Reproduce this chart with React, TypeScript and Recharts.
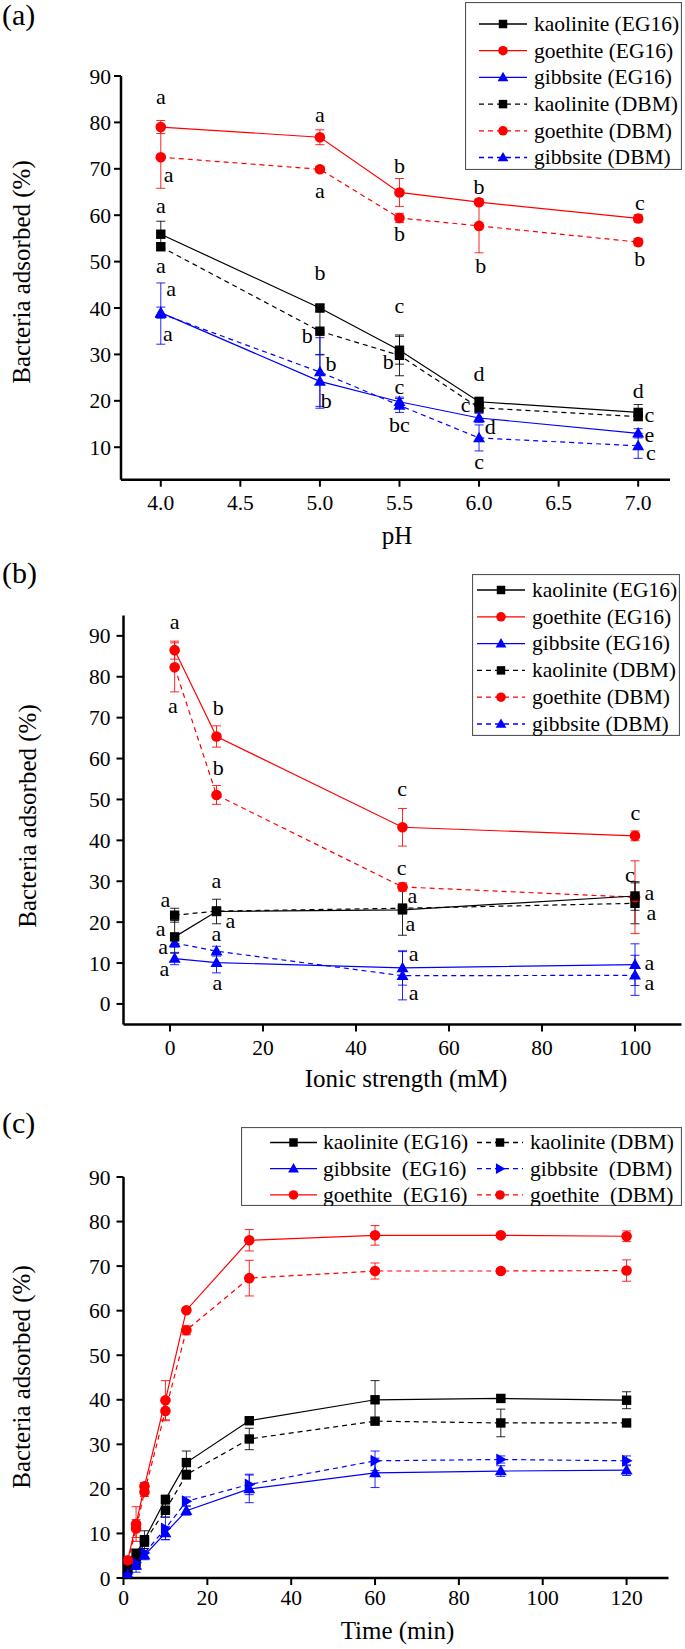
import React from 'react';
import { ComposedChart, Line, Scatter, XAxis, YAxis, ErrorBar, Legend } from 'recharts';

const FONT = '"Liberation Serif", "Times New Roman", Times, serif';
const BLACK = '#000000';
const RED = '#ff0000';
const BLUE = '#0000ff';
const W = 685;
const YW = 60;
const XH = 40;

// ---------- (a) effect of pH ----------
const phX = [4.0, 5.0, 5.5, 6.0, 7.0];
const phKaoEG = [55.9, 40.0, 30.9, 19.8, 17.5];
const phKaoEGErr = [2.8, 0.8, 3.0, 1.0, 1.7];
const phGoeEG = [79.0, 76.8, 64.9, 62.8, 59.3];
const phGoeEGErr = [1.4, 1.6, 3.0, 0.6, 0.8];
const phGibEG = [39.0, 24.2, 19.8, 16.3, 13.0];
const phGibEGErr = [1.2, 5.8, 1.0, 1.0, 1.0];
const phKaoDBM = [53.2, 35.0, 29.8, 18.5, 16.6];
const phKaoDBMErr = [0.8, 5.1, 4.4, 1.0, 0.8];
const phGoeDBM = [72.5, 69.9, 59.4, 57.7, 54.2];
const phGoeDBMErr = [6.7, 0.6, 1.0, 5.8, 0.8];
const phGibDBM = [38.8, 26.2, 19.0, 12.0, 10.3];
const phGibDBMErr = [6.6, 7.4, 1.5, 2.8, 2.7];

const phNoteText = ['a', 'a', 'a', 'a', 'b', 'b', 'b', 'b', 'c', 'b', 'a', 'a', 'a', 'a', 'b', 'b', 'b', 'b', 'c', 'b', 'c', 'bc', 'd', 'c', 'd', 'c', 'd', 'c', 'e', 'c'];
const phNoteX = [4.0, 5.0, 4.05, 5.0, 5.5, 5.5, 6.0, 6.01, 7.01, 7.01, 4.0, 4.0, 4.065, 4.045, 5.0, 4.92, 5.07, 5.04, 5.5, 5.43, 5.5, 5.5, 6.0, 5.915, 6.07, 6.0, 7.0, 7.07, 7.07, 7.08];
const phNoteY = [85.3, 81.4, 68.5, 65.1, 70.5, 55.7, 65.8, 48.8, 62.5, 50.3, 61.7, 48.8, 44.0, 34.2, 47.4, 33.8, 27.7, 19.8, 40.2, 28.1, 22.7, 14.6, 25.7, 19.0, 14.2, 6.7, 22.0, 16.7, 12.5, 8.6];

// ---------- (b) effect of ionic strength ----------
const isX = [1, 10, 50, 100];
const isKaoEG = [16.4, 22.6, 23.0, 26.4];
const isKaoEGErr = [4.0, 3.0, 6.2, 3.5];
const isGoeEG = [86.5, 65.4, 43.2, 41.1];
const isGoeEGErr = [2.2, 2.6, 4.6, 1.2];
const isGibEG = [11.1, 10.1, 8.8, 9.6];
const isGibEGErr = [1.5, 2.5, 4.2, 5.1];
const isKaoDBM = [21.7, 22.7, 23.4, 24.6];
const isKaoDBMErr = [1.7, 1.0, 1.0, 5.0];
const isGoeDBM = [82.3, 51.1, 28.6, 26.1];
const isGoeDBMErr = [6.0, 2.3, 1.0, 8.9];
const isGibDBM = [14.9, 12.9, 6.9, 7.0];
const isGibDBMErr = [1.0, 1.2, 5.9, 4.9];

const isNoteText = ['a', 'a', 'b', 'b', 'c', 'c', 'c', 'c', 'a', 'a', 'a', 'a', 'a', 'a', 'a', 'a', 'a', 'a', 'a', 'a', 'a', 'a', 'a', 'a'];
const isNoteX = [1.0, 0.6, 10.4, 10.4, 49.9, 49.8, 100.1, 98.9, 10.0, -1.0, 13.0, -2.0, 10.0, -1.5, -1.2, 10.2, 52.1, 51.7, 52.4, 52.4, 103.1, 103.5, 103.1, 103.1];
const isNoteY = [93.2, 72.6, 72.1, 57.6, 52.3, 33.0, 46.6, 31.3, 29.8, 25.1, 20.1, 18.0, 16.9, 13.6, 8.3, 5.0, 26.2, 19.3, 12.0, 2.5, 27.0, 22.1, 9.8, 5.0];

// ---------- (c) kinetics ----------
const tX = [1, 3, 5, 10, 15, 30, 60, 90, 120];
const tKaoEG = [2.2, 5.5, 8.6, 17.6, 25.9, 35.3, 40.0, 40.3, 39.9];
const tKaoEGErr = [1.0, 1.0, 2.0, 1.0, 2.6, 0.5, 4.3, 0.8, 1.9];
const tGibEG = [0.8, 2.8, 5.1, 10.1, 15.1, 20.0, 23.6, 24.0, 24.2];
const tGibEGErr = [0.8, 1.5, 1.0, 1.5, 1.0, 3.1, 3.3, 1.2, 1.2];
const tGoeEG = [4.0, 12.1, 20.6, 39.9, 60.1, 75.8, 76.9, 76.9, 76.7];
const tGoeEGErr = [0.8, 3.9, 0.8, 4.4, 0.5, 2.4, 2.2, 0.5, 1.2];
const tKaoDBM = [1.7, 3.6, 8.1, 15.2, 23.2, 31.2, 35.2, 34.8, 34.8];
const tKaoDBMErr = [1.0, 1.0, 1.0, 1.5, 1.0, 2.4, 0.5, 3.1, 0.5];
const tGibDBM = [1.1, 3.4, 5.6, 11.1, 17.2, 21.0, 26.3, 26.6, 26.3];
const tGibDBMErr = [0.8, 1.5, 1.0, 2.5, 1.0, 2.3, 2.2, 0.8, 1.1];
const tGoeDBM = [3.6, 11.1, 19.3, 37.5, 55.6, 67.3, 68.9, 68.9, 69.0];
const tGoeDBMErr = [0.8, 2.0, 1.0, 2.2, 1.0, 4.0, 1.8, 0.5, 2.4];

const phTicks = [4.0, 4.5, 5.0, 5.5, 6.0, 6.5, 7.0];
const isTicks = [0, 20, 40, 60, 80, 100];
const tTicks = [0, 20, 40, 60, 80, 100, 120];
const yTicksA = [10, 20, 30, 40, 50, 60, 70, 80, 90];
const yTicksBC = [0, 10, 20, 30, 40, 50, 60, 70, 80, 90];

const s = (key, name, color, dashed, shape, values, errors) => ({ key, name, color, dashed, shape, values, errors });

const seriesA = [
  s('kaoDBM', 'kaolinite (DBM)', BLACK, true, 'square', phKaoDBM, phKaoDBMErr),
  s('goeDBM', 'goethite (DBM)', RED, true, 'circle', phGoeDBM, phGoeDBMErr),
  s('gibDBM', 'gibbsite (DBM)', BLUE, true, 'tri', phGibDBM, phGibDBMErr),
  s('kaoEG', 'kaolinite (EG16)', BLACK, false, 'square', phKaoEG, phKaoEGErr),
  s('goeEG', 'goethite (EG16)', RED, false, 'circle', phGoeEG, phGoeEGErr),
  s('gibEG', 'gibbsite (EG16)', BLUE, false, 'tri', phGibEG, phGibEGErr),
];
const seriesB = [
  s('kaoDBM', 'kaolinite (DBM)', BLACK, true, 'square', isKaoDBM, isKaoDBMErr),
  s('goeDBM', 'goethite (DBM)', RED, true, 'circle', isGoeDBM, isGoeDBMErr),
  s('gibDBM', 'gibbsite (DBM)', BLUE, true, 'tri', isGibDBM, isGibDBMErr),
  s('kaoEG', 'kaolinite (EG16)', BLACK, false, 'square', isKaoEG, isKaoEGErr),
  s('goeEG', 'goethite (EG16)', RED, false, 'circle', isGoeEG, isGoeEGErr),
  s('gibEG', 'gibbsite (EG16)', BLUE, false, 'tri', isGibEG, isGibEGErr),
];
const seriesC = [
  s('kaoDBM', 'kaolinite (DBM)', BLACK, true, 'square', tKaoDBM, tKaoDBMErr),
  s('gibDBM', 'gibbsite  (DBM)', BLUE, true, 'triR', tGibDBM, tGibDBMErr),
  s('goeDBM', 'goethite  (DBM)', RED, true, 'circle', tGoeDBM, tGoeDBMErr),
  s('kaoEG', 'kaolinite (EG16)', BLACK, false, 'square', tKaoEG, tKaoEGErr),
  s('gibEG', 'gibbsite  (EG16)', BLUE, false, 'tri', tGibEG, tGibEGErr),
  s('goeEG', 'goethite  (EG16)', RED, false, 'circle', tGoeEG, tGoeEGErr),
];

function Marker({ shape, cx, cy, color, k = 1 }) {
  if (cx == null || cy == null) return null;
  if (shape === 'square') {
    const h = 4.7 * k;
    return <rect x={cx - h} y={cy - h} width={2 * h} height={2 * h} fill={color} />;
  }
  if (shape === 'circle') return <circle cx={cx} cy={cy} r={5.3 * k} fill={color} />;
  if (shape === 'triR') {
    return <polygon points={`${cx + 6 * k},${cy} ${cx - 4.5 * k},${cy - 6 * k} ${cx - 4.5 * k},${cy + 6 * k}`} fill={color} />;
  }
  return <polygon points={`${cx},${cy - 6.2 * k} ${cx + 6 * k},${cy + 4.3 * k} ${cx - 6 * k},${cy + 4.3 * k}`} fill={color} />;
}

function LegendBox({ box, items }) {
  return (
    <svg width={box.w} height={box.h} style={{ display: 'block' }}>
      <rect x={0.5} y={0.5} width={box.w - 1} height={box.h - 1} fill="#fff" stroke="#555" strokeWidth={1.2} />
      {items.map((it, i) => {
        const col = box.cols[it.col];
        const y = box.row0 + it.row * box.rowGap;
        return (
          <g key={i}>
            <line x1={col.l1} x2={col.l2} y1={y} y2={y} stroke={it.color} strokeWidth={1.3} strokeDasharray={it.dashed ? '5 4' : undefined} />
            <Marker shape={it.shape} cx={(col.l1 + col.l2) / 2} cy={y} color={it.color} k={0.9} />
            <text x={col.tx} y={y} dy="0.32em" fontFamily={FONT} fontSize={21.5} fill="#000" style={{ whiteSpace: 'pre' }}>{it.name}</text>
          </g>
        );
      })}
    </svg>
  );
}

const legendA = {
  left: 465, top: 2, w: 217, h: 168, row0: 22, rowGap: 26.7,
  cols: [{ l1: 14, l2: 62, tx: 69 }],
  items: [
    { name: 'kaolinite (EG16)', color: BLACK, dashed: false, shape: 'square', row: 0, col: 0 },
    { name: 'goethite (EG16)', color: RED, dashed: false, shape: 'circle', row: 1, col: 0 },
    { name: 'gibbsite (EG16)', color: BLUE, dashed: false, shape: 'tri', row: 2, col: 0 },
    { name: 'kaolinite (DBM)', color: BLACK, dashed: true, shape: 'square', row: 3, col: 0 },
    { name: 'goethite (DBM)', color: RED, dashed: true, shape: 'circle', row: 4, col: 0 },
    { name: 'gibbsite (DBM)', color: BLUE, dashed: true, shape: 'tri', row: 5, col: 0 },
  ],
};
const legendB = { ...legendA, left: 472, top: 14, w: 208, h: 162, row0: 16, rowGap: 26.8, cols: [{ l1: 5, l2: 53, tx: 60 }] };
const legendC = {
  left: 241, top: 27, w: 441, h: 79, row0: 15.5, rowGap: 26.2,
  cols: [{ l1: 29, l2: 76, tx: 82 }, { l1: 236, l2: 282, tx: 289 }],
  items: [
    { name: 'kaolinite (EG16)', color: BLACK, dashed: false, shape: 'square', row: 0, col: 0 },
    { name: 'gibbsite  (EG16)', color: BLUE, dashed: false, shape: 'tri', row: 1, col: 0 },
    { name: 'goethite  (EG16)', color: RED, dashed: false, shape: 'circle', row: 2, col: 0 },
    { name: 'kaolinite (DBM)', color: BLACK, dashed: true, shape: 'square', row: 0, col: 1 },
    { name: 'gibbsite  (DBM)', color: BLUE, dashed: true, shape: 'triR', row: 1, col: 1 },
    { name: 'goethite  (DBM)', color: RED, dashed: true, shape: 'circle', row: 2, col: 1 },
  ],
};

const panels = [
  {
    tag: '(a)', tagTop: 0, top: 0, height: 560, left: 121, right: 670, plotTop: 76, plotBottom: 479.7,
    x: phX, series: seriesA, xDomain: [3.75, 7.2], xTicks: phTicks, fmt: (v) => v.toFixed(1),
    yDomain: [3, 90], yTicks: yTicksA, yTickMargin: 3, xTickMargin: 8,
    noteText: phNoteText, noteX: phNoteX, noteY: phNoteY, legend: legendA,
    xTitle: 'pH', xTitleX: 397, xTitleY: 544, yTitleX: 30, yTitleY: 272,
  },
  {
    tag: '(b)', tagTop: -2, top: 560, height: 540, left: 123.5, right: 681.5, plotTop: 55.4, plotBottom: 464.4,
    x: isX, series: seriesB, xDomain: [-10, 110], xTicks: isTicks, fmt: (v) => String(v),
    yDomain: [-5, 95], yTicks: yTicksBC, yTickMargin: 6, xTickMargin: 8,
    noteText: isNoteText, noteX: isNoteX, noteY: isNoteY, legend: legendB,
    xTitle: 'Ionic strength (mM)', xTitleX: 406, xTitleY: 527, yTitleX: 36, yTitleY: 256,
  },
  {
    tag: '(c)', tagTop: 7.5, top: 1100, height: 549, left: 123.5, right: 668.5, plotTop: 77, plotBottom: 478,
    x: tX, series: seriesC, xDomain: [0, 130], xTicks: tTicks, fmt: (v) => String(v),
    yDomain: [0, 90], yTicks: yTicksBC, yTickMargin: 6, xTickMargin: 5,
    noteText: [], noteX: [], noteY: [], legend: legendC,
    xTitle: 'Time (min)', xTitleX: 397.5, xTitleY: 539, yTitleX: 30, yTitleY: 277,
  },
];

// axis titles: positions passed as px/py so the label's own x/y do not override them
const XTitle = ({ text, px, py }) => (
  <text x={px} y={py} textAnchor="middle" fontFamily={FONT} fontSize={25} fill="#000">{text}</text>
);
const YTitle = ({ px, py }) => (
  <text x={px} y={py} textAnchor="middle" transform={`rotate(-90, ${px}, ${py})`} fontFamily={FONT} fontSize={25} fill="#000">
    Bacteria adsorbed (%)
  </text>
);

function Panel({ cfg }) {
  const rows = cfg.x.map((x, i) => {
    const r = { x };
    cfg.series.forEach((sr) => {
      r[sr.key] = sr.values[i];
      r[sr.key + 'Err'] = sr.errors[i];
    });
    return r;
  });
  const notes = cfg.noteText.map((t, i) => ({ x: cfg.noteX[i], y: cfg.noteY[i], t }));
  const margin = {
    top: cfg.plotTop,
    right: W - cfg.right,
    bottom: cfg.height - cfg.plotBottom - XH,
    left: cfg.left - YW,
  };
  const lg = cfg.legend;
  return (
    <div style={{ position: 'absolute', left: 0, top: cfg.top, width: W, height: cfg.height }}>
      <ComposedChart width={W} height={cfg.height} data={rows} margin={margin}>
        <XAxis
          type="number" dataKey="x" domain={cfg.xDomain} ticks={cfg.xTicks} allowDataOverflow height={XH}
          axisLine={{ stroke: '#000', strokeWidth: 2.5 }} tickLine={{ stroke: '#000', strokeWidth: 2 }}
          tickSize={7} tickMargin={cfg.xTickMargin}
          tick={(p) => (
            <text x={p.x} y={p.y} dy="0.71em" textAnchor="middle" fontFamily={FONT} fontSize={21.5} fill="#000">
              {cfg.fmt(p.payload.value)}
            </text>
          )}
          label={<XTitle text={cfg.xTitle} px={cfg.xTitleX} py={cfg.xTitleY} />}
        />
        <YAxis
          type="number" domain={cfg.yDomain} ticks={cfg.yTicks} allowDataOverflow width={YW}
          axisLine={{ stroke: '#000', strokeWidth: 2.5 }} tickLine={{ stroke: '#000', strokeWidth: 2 }}
          tickSize={7} tickMargin={cfg.yTickMargin}
          tick={(p) => (
            <text x={p.x} y={p.y} dy="0.35em" textAnchor="end" fontFamily={FONT} fontSize={21.5} fill="#000">
              {p.payload.value}
            </text>
          )}
          label={<YTitle px={cfg.yTitleX} py={cfg.yTitleY} />}
        />
        {cfg.series.map((sr) => (
          <Line
            key={sr.key} type="linear" dataKey={sr.key} name={sr.name} stroke={sr.color} strokeWidth={1.2}
            strokeDasharray={sr.dashed ? '5 4' : undefined} isAnimationActive={false} activeDot={false}
            dot={(p) => <Marker key={`${sr.key}-${p.index}`} shape={sr.shape} cx={p.cx} cy={p.cy} color={sr.color} />}
          >
            <ErrorBar dataKey={sr.key + 'Err'} width={4.5} stroke={sr.color} strokeWidth={1} strokeOpacity={0.85} direction="y" />
          </Line>
        ))}
        {notes.length > 0 && (
          <Scatter
            data={notes} dataKey="y" isAnimationActive={false} legendType="none"
            shape={(p) => (
              <text x={p.cx} y={p.cy} dy="0.28em" textAnchor="middle" fontFamily={FONT} fontSize={22} fill="#000">
                {p.payload.t}
              </text>
            )}
          />
        )}
        <Legend
          layout="vertical" align="center" verticalAlign="middle" width={lg.w} height={lg.h}
          wrapperStyle={{ position: 'absolute', left: lg.left, top: lg.top, width: lg.w, height: lg.h, margin: 0, padding: 0 }}
          content={() => <LegendBox box={lg} items={lg.items} />}
        />
      </ComposedChart>
      <div style={{ position: 'absolute', left: 2, top: cfg.tagTop, fontFamily: FONT, fontSize: 30, lineHeight: '30px', color: '#000' }}>
        {cfg.tag}
      </div>
    </div>
  );
}

export default function App() {
  return (
    <div style={{ position: 'absolute', left: 0, top: 0, width: W, height: 1649, background: '#fff' }}>
      {panels.map((cfg) => (
        <Panel key={cfg.tag} cfg={cfg} />
      ))}
    </div>
  );
}
